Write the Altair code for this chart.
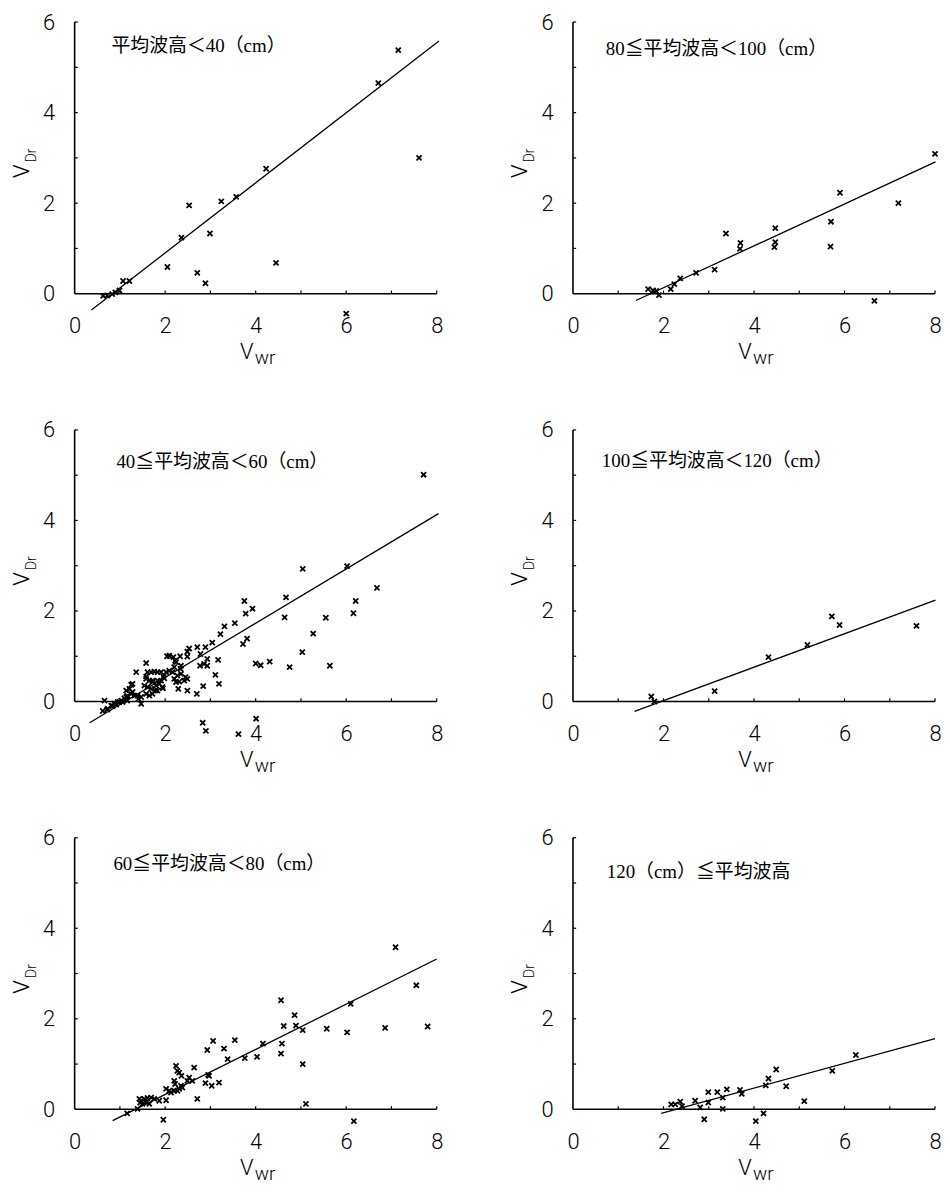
import altair as alt
import pandas as pd

# ---------------- data ----------------
titles = [
    "平均波高＜40（cm）",
    "80≦平均波高＜100（cm）",
    "40≦平均波高＜60（cm）",
    "100≦平均波高＜120（cm）",
    "60≦平均波高＜80（cm）",
    "120（cm）≦平均波高",
]

p1_x = [0.63, 0.72, 0.83, 0.90, 0.99, 1.07, 1.21, 2.05, 2.36, 2.53, 2.71, 2.89, 2.99, 3.24, 3.57, 4.23, 4.45, 6.00, 6.71, 7.15, 7.61]
p1_y = [-0.05, -0.04, -0.01, 0.03, 0.07, 0.28, 0.28, 0.59, 1.24, 1.95, 0.46, 0.23, 1.33, 2.04, 2.14, 2.76, 0.68, -0.44, 4.65, 5.38, 3.00]

p2_x = [1.66, 1.77, 1.84, 1.90, 2.16, 2.24, 2.37, 2.72, 3.13, 3.38, 3.70, 3.69, 4.47, 4.47, 4.45, 5.70, 5.69, 5.90, 6.66, 7.19, 8.00]
p2_y = [0.10, 0.07, 0.06, -0.03, 0.10, 0.21, 0.34, 0.46, 0.53, 1.33, 1.12, 0.99, 1.45, 1.14, 1.03, 1.59, 1.04, 2.23, -0.16, 2.00, 3.09]

p3_x = [0.62, 0.66, 0.72, 0.73, 0.81, 0.84, 0.88, 0.92, 0.95, 0.99, 1.03, 1.06, 1.10, 1.14, 1.17, 1.16, 1.21, 1.25, 1.14, 1.28, 1.25, 1.28, 1.32, 1.39, 1.41, 1.47, 1.47, 1.36,
        1.54, 1.58, 1.61, 1.65, 1.69, 1.72, 1.58, 1.58, 1.61, 1.69, 1.76, 1.83, 1.91, 1.58, 1.65, 1.72, 1.80, 1.87, 1.91, 1.98, 1.94, 1.83, 1.78, 1.96, 1.95, 1.83, 1.72,
        2.02, 2.09, 2.16, 2.09, 2.04, 2.18, 2.33, 2.24, 2.22, 2.20, 2.27, 2.35, 2.24, 2.31, 2.42, 2.49, 2.29, 2.20, 2.34, 2.45, 2.35, 2.49, 2.70, 2.49, 2.53, 2.71, 2.78,
        2.89, 2.86, 2.93, 2.49, 2.77, 2.93, 3.17, 3.11, 3.19, 2.84, 3.04, 3.22, 3.31, 3.54,
        7.71, 5.04, 6.02, 6.68, 6.21, 6.16, 5.55, 5.27, 5.03, 5.64, 4.75, 4.67, 4.64, 4.31, 4.11, 4.00, 3.75, 3.93, 3.78, 3.81, 3.72,
        2.83, 2.90, 3.62, 4.01]
p3_y = [-0.21, 0.02, -0.18, -0.16, -0.09, -0.10, -0.05, -0.07, -0.01, -0.01, 0.02, -0.01, 0.07, 0.10, 0.12, 0.02, 0.28, 0.17, 0.24, 0.21, 0.37, 0.39, 0.13, 0.13, 0.06, -0.05, 0.10, 0.65,
        0.35, 0.50, 0.32, 0.46, 0.28, 0.43, 0.85, 0.55, 0.65, 0.65, 0.66, 0.65, 0.65, 0.17, 0.13, 0.17, 0.35, 0.39, 0.46, 0.51, 0.32, 0.24, 0.24, 0.55, 0.29, 0.46, 0.46,
        0.65, 0.68, 0.65, 1.01, 1.00, 0.98, 1.00, 0.87, 0.90, 0.50, 0.57, 0.61, 0.43, 0.44, 0.46, 0.50, 0.28, 0.76, 0.72, 0.54, 0.79, 0.24, 0.17, 1.10, 1.17, 1.20, 1.05,
        1.20, 0.83, 0.94, 0.99, 0.79, 0.79, 0.92, 0.59, 0.39, 0.34, 1.30, 1.49, 1.66, 1.73,
        5.01, 2.93, 2.99, 2.51, 2.22, 1.95, 1.85, 1.50, 1.09, 0.79, 0.76, 2.30, 1.86, 0.88, 0.80, 0.84, 2.22, 2.05, 1.94, 1.39, 1.27,
        -0.47, -0.65, -0.72, -0.38]

p4_x = [1.73, 1.80, 3.13, 4.32, 5.18, 5.72, 5.89, 7.59]
p4_y = [0.11, 0.00, 0.23, 0.98, 1.25, 1.88, 1.69, 1.67]

p5_x = [1.16, 1.39, 1.43, 1.47, 1.54, 1.61, 1.69, 1.58, 1.65, 1.50, 1.76, 1.87, 1.45, 1.96, 2.02, 2.02, 2.09, 2.13, 2.20, 2.22, 2.24, 2.27, 2.31, 2.35, 2.38, 2.31,
        2.27, 2.20, 2.36, 2.49, 2.53, 2.60, 2.64, 2.71, 2.89, 2.93, 2.95, 2.97, 3.03, 3.06, 3.19, 3.30, 3.38, 3.54, 3.76, 4.03, 4.16, 4.56, 4.56, 4.58, 4.62, 4.86,
        4.89, 5.04, 5.04, 5.11, 5.57, 6.02, 6.10, 6.17, 6.86, 7.09, 7.55, 7.80]
p5_y = [-0.09, 0.01, 0.23, 0.19, 0.23, 0.25, 0.26, 0.15, 0.12, 0.12, 0.23, 0.19, 0.15, -0.23, 0.20, 0.45, 0.41, 0.37, 0.63, 0.56, 0.96, 0.85, 0.81, 0.52, 0.48, 0.45,
        0.41, 0.41, 0.74, 0.63, 0.70, 0.63, 0.92, 0.23, 0.58, 1.31, 0.76, 0.74, 0.52, 1.51, 0.59, 1.34, 1.11, 1.53, 1.13, 1.16, 1.45, 2.41, 1.23, 1.45, 1.84, 2.08,
        1.85, 1.75, 1.00, 0.12, 1.78, 1.70, 2.33, -0.26, 1.80, 3.58, 2.74, 1.83]

p6_x = [2.17, 2.26, 2.37, 2.41, 2.70, 2.81, 2.90, 2.99, 2.99, 3.19, 3.31, 3.31, 3.40, 3.69, 3.73, 4.04, 4.21, 4.26, 4.32, 4.49, 4.71, 5.11, 5.73, 6.25]
p6_y = [0.11, 0.11, 0.17, 0.07, 0.19, 0.04, -0.22, 0.38, 0.15, 0.38, 0.26, 0.01, 0.44, 0.43, 0.34, -0.26, -0.09, 0.53, 0.68, 0.88, 0.51, 0.18, 0.85, 1.20]

# regression line end points (x, y) per panel
line_x = [[0.37, 8.05], [1.39, 8.01], [0.33, 8.04], [1.36, 8.01], [0.84, 8.00], [1.95, 8.00]]
line_y = [[-0.36, 5.58], [-0.15, 2.91], [-0.47, 4.15], [-0.22, 2.24], [-0.25, 3.32], [-0.09, 1.56]]

x_tick_labels = [0, 2, 4, 6, 8]
y_tick_labels = [0, 2, 4, 6]
x_minor = [1, 2, 3, 4, 5, 6, 7, 8]
y_minor = [1, 2, 3, 4, 5, 6]

# title placement (px from plot left / plot top)
title_pos = [(37, 24), (33, 27), (42, 32), (29, 31), (39, 26), (34, 34)]

points = [(p1_x, p1_y), (p2_x, p2_y), (p3_x, p3_y), (p4_x, p4_y), (p5_x, p5_y), (p6_x, p6_y)]

# ---------------- chart ----------------
W, H = 364, 294
XDOM = [0, 8]
YDOM = [-0.46, 6]
LABEL_FONT = "Roboto"
TITLE_FONT = "Liberation Serif, Noto Sans CJK JP"
CROSS = "M-1,-1L1,1M-1,1L1,-1"


def X(field):
    return alt.X(field, type="quantitative", scale=alt.Scale(domain=XDOM, nice=False, zero=False),
                 axis=alt.Axis(values=x_tick_labels, format="d", title=None, domain=False, ticks=False,
                               grid=False, labelPadding=1, labelFlush=False))


def Y(field):
    return alt.Y(field, type="quantitative", scale=alt.Scale(domain=YDOM, nice=False, zero=False),
                 axis=alt.Axis(values=y_tick_labels, format="d", title=None, domain=False, ticks=False,
                               grid=False, labelPadding=20, labelFlush=False))


def panel(i):
    px, py = points[i]
    pts = pd.DataFrame({"x": px, "y": py})
    ln = pd.DataFrame({"x": line_x[i], "y": line_y[i]})
    xaxis_df = pd.DataFrame({"x": [XDOM[0]], "x2": [XDOM[1]], "y": [0]})
    yaxis_df = pd.DataFrame({"x": [0], "y": [0], "y2": [YDOM[1]]})
    xt = pd.DataFrame({"x": x_minor, "y": [0] * len(x_minor), "y2": [0.07] * len(x_minor)})
    yt = pd.DataFrame({"x": [0] * len(y_minor), "x2": [0.07] * len(y_minor), "y": y_minor})

    axis_x = alt.Chart(xaxis_df).mark_rule(color="black", strokeWidth=1.6).encode(
        x=X("x"), x2="x2", y=Y("y"))
    axis_y = alt.Chart(yaxis_df).mark_rule(color="black", strokeWidth=1.6).encode(
        x=X("x"), y=Y("y"), y2="y2")
    ticks_x = alt.Chart(xt).mark_rule(color="black", strokeWidth=1.2).encode(
        x=X("x"), y=Y("y"), y2="y2")
    ticks_y = alt.Chart(yt).mark_rule(color="black", strokeWidth=1.2).encode(
        x=X("x"), x2="x2", y=Y("y"))
    reg = alt.Chart(ln).mark_line(color="black", strokeWidth=1.3).encode(
        x=X("x"), y=Y("y"))
    sc = alt.Chart(pts).mark_point(shape=CROSS, size=26, color="black", strokeWidth=1.8,
                                   filled=False, opacity=1).encode(x=X("x"), y=Y("y"))

    tx, ty = title_pos[i]
    ttl = alt.Chart(pd.DataFrame({"t": [titles[i]]})).mark_text(
        align="left", baseline="middle", font=TITLE_FONT, fontSize=19, color="black"
    ).encode(x=alt.value(tx), y=alt.value(ty), text="t:N")

    lab = pd.DataFrame({"t": ["V"]})
    vx = alt.Chart(lab).mark_text(align="center", baseline="alphabetic", font=LABEL_FONT,
                                  fontWeight=300, fontSize=22, color="black").encode(
        x=alt.value(173), y=alt.value(339), text="t:N")
    vx_sub = alt.Chart(pd.DataFrame({"t": ["wr"]})).mark_text(
        align="left", baseline="alphabetic", font=LABEL_FONT, fontWeight=300, fontSize=19,
        color="black").encode(x=alt.value(181), y=alt.value(344), text="t:N")
    vy = alt.Chart(lab).mark_text(align="center", baseline="alphabetic", font=LABEL_FONT,
                                  fontWeight=300, fontSize=22, angle=270, color="black").encode(
        x=alt.value(-46), y=alt.value(150), text="t:N")
    vy_sub = alt.Chart(pd.DataFrame({"t": ["Dr"]})).mark_text(
        align="center", baseline="alphabetic", font=LABEL_FONT, fontWeight=300, fontSize=14,
        angle=270, color="black").encode(x=alt.value(-39), y=alt.value(134), text="t:N")

    return alt.layer(axis_x, axis_y, ticks_x, ticks_y, reg, sc, ttl, vx, vx_sub, vy, vy_sub).properties(
        width=W, height=H)


chart = alt.concat(*[panel(i) for i in range(6)], columns=2,
                   spacing={"row": 116, "column": 137}, bounds="flush").properties(
    padding={"left": 3, "top": 0, "right": 0, "bottom": 0}, background="white"
).configure_view(stroke=None).configure_axis(
    labelFont=LABEL_FONT, labelFontWeight=300, labelFontSize=22, labelColor="black"
)

chart.save("out.html", embed_options={"renderer": "svg", "actions": False})
